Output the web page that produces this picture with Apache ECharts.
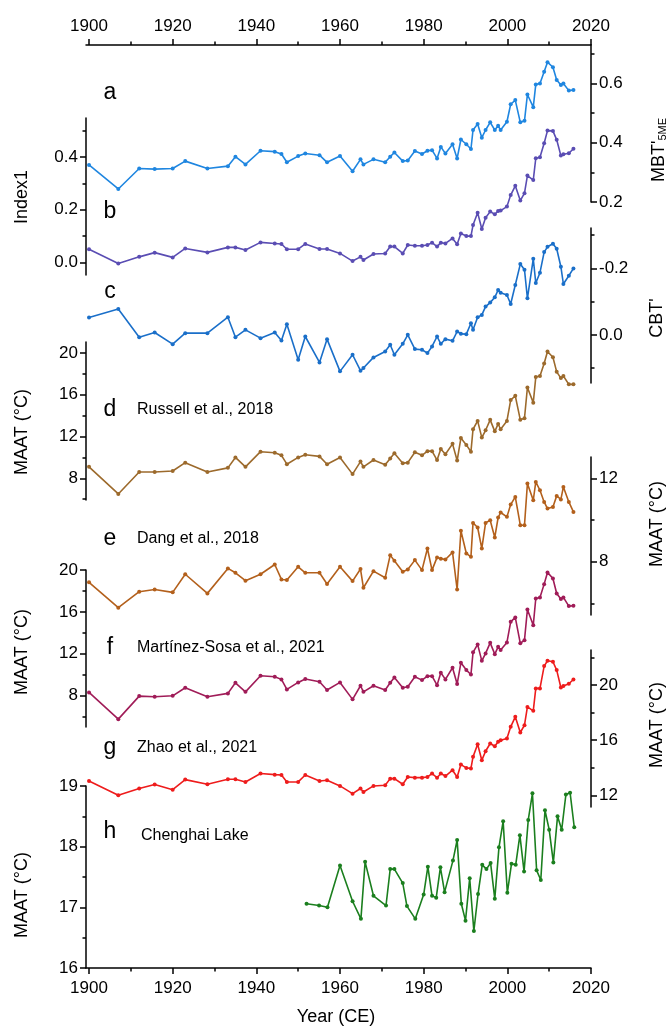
<!DOCTYPE html>
<html>
<head>
<meta charset="utf-8">
<script src="https://cdn.jsdelivr.net/npm/echarts@6/dist/echarts.min.js"></script>
<style>
  html, body { margin: 0; padding: 0; background: #fff; }
  #chart { width: 672px; height: 1029px; }
</style>
</head>
<body>
<div id="chart"></div>
<script>
  // sample years shared by records a-g
  const years = [1900, 1907, 1912, 1915.7, 1920, 1923, 1928.3, 1933.2, 1935, 1937.4,
    1941, 1944.4, 1946, 1947.3, 1950, 1951.7, 1955.1, 1956.9, 1960, 1963,
    1964.9, 1965.6, 1968, 1970.8, 1972, 1973, 1975, 1976.2, 1977.9, 1979.6,
    1980.9, 1982, 1983.2, 1984.1, 1985.2, 1986.9, 1988, 1988.9, 1990.2, 1991.3,
    1991.8, 1992.9, 1993.9, 1994.8, 1995.9, 1997, 1997.8, 1998.4, 1999.9, 2000.8,
    2001.9, 2003.1, 2004.1, 2004.8, 2006.2, 2006.8, 2007.8, 2008.8, 2009.6, 2010.9,
    2011.8, 2012.8, 2013.4, 2014.7, 2015.8]

  const mbt5me = [0.325, 0.244, 0.313, 0.311, 0.313, 0.338, 0.313, 0.321, 0.353, 0.327,
    0.373, 0.37, 0.362, 0.334, 0.355, 0.364, 0.358, 0.334, 0.355, 0.304,
    0.344, 0.327, 0.344, 0.334, 0.353, 0.367, 0.338, 0.34, 0.372, 0.362,
    0.373, 0.375, 0.347, 0.386, 0.364, 0.395, 0.347, 0.411, 0.395, 0.379,
    0.443, 0.463, 0.417, 0.443, 0.469, 0.443, 0.457, 0.443, 0.471, 0.53,
    0.544, 0.469, 0.474, 0.563, 0.52, 0.597, 0.6, 0.64, 0.672, 0.655,
    0.612, 0.595, 0.6, 0.576, 0.578]

  const index1 = [0.05, -0.004, 0.021, 0.037, 0.019, 0.053, 0.038, 0.057, 0.057, 0.047,
    0.076, 0.072, 0.07, 0.05, 0.05, 0.07, 0.051, 0.051, 0.034, 0.005,
    0.021, 0.009, 0.032, 0.034, 0.06, 0.06, 0.034, 0.066, 0.063, 0.063,
    0.066, 0.075, 0.06, 0.075, 0.072, 0.091, 0.069, 0.11, 0.1, 0.1,
    0.142, 0.189, 0.127, 0.17, 0.193, 0.183, 0.195, 0.197, 0.212, 0.256,
    0.291, 0.235, 0.263, 0.33, 0.313, 0.396, 0.4, 0.453, 0.501, 0.5,
    0.466, 0.406, 0.411, 0.415, 0.432]

  const cbt = [-0.052, -0.078, 0.007, -0.007, 0.028, -0.005, -0.005, -0.053, 0.007, -0.015,
    0.01, -0.007, 0.017, -0.032, 0.075, 0.005, 0.083, 0.013, 0.11, 0.06,
    0.108, 0.1, 0.068, 0.05, 0.03, 0.06, 0.027, 0.0, 0.043, 0.045,
    0.055, 0.035, 0.005, 0.027, 0.013, 0.018, -0.01, -0.003, -0.002, -0.035,
    -0.015, -0.053, -0.06, -0.085, -0.097, -0.113, -0.135, -0.127, -0.12, -0.093,
    -0.15, -0.213, -0.196, -0.11, -0.229, -0.156, -0.187, -0.249, -0.265, -0.274,
    -0.259, -0.205, -0.153, -0.178, -0.2]

  const maatRussell = [9.1, 6.5, 8.6, 8.6, 8.7, 9.5, 8.6, 9.0, 10.0, 9.1,
    10.55, 10.45, 10.2, 9.35, 10.0, 10.25, 10.1, 9.35, 10.0, 8.4,
    9.6, 9.1, 9.75, 9.3, 9.9, 10.4, 9.45, 9.5, 10.5, 10.2,
    10.6, 10.6, 9.75, 10.8, 10.3, 11.3, 9.7, 11.85, 11.2, 10.55,
    12.7, 13.5, 11.9, 12.6, 13.6, 12.5, 13.2, 12.7, 13.5, 15.5,
    15.9, 13.6, 13.75, 16.7, 15.25, 17.7, 17.8, 19.0, 20.15, 19.6,
    18.2, 17.6, 17.8, 17.0, 17.0]

  const maatDang = [7.01, 5.79, 6.56, 6.67, 6.53, 7.4, 6.48, 7.68, 7.47, 7.09,
    7.4, 7.87, 7.15, 7.12, 7.76, 7.47, 7.47, 6.93, 7.76, 7.07,
    7.65, 6.75, 7.55, 7.23, 8.32, 8.05, 7.52, 7.63, 8.08, 7.6,
    8.64, 7.6, 8.21, 8.15, 8.11, 8.45, 6.67, 9.49, 8.4, 8.24,
    9.87, 9.65, 8.64, 9.87, 10.0, 9.17, 10.13, 10.37, 10.16, 10.75,
    11.12, 9.76, 9.76, 11.76, 10.96, 11.84, 11.44, 10.88, 10.56, 10.64,
    11.17, 11.0, 11.6, 10.88, 10.4]

  const maatMartinez = [8.3, 5.75, 7.95, 7.89, 7.98, 8.75, 7.89, 8.21, 9.22, 8.36,
    9.9, 9.8, 9.55, 8.59, 9.26, 9.58, 9.32, 8.53, 9.26, 7.64,
    8.94, 8.36, 8.94, 8.53, 9.22, 9.74, 8.75, 8.84, 9.8, 9.48,
    9.86, 9.86, 9.0, 10.18, 9.55, 10.66, 9.1, 11.13, 10.44, 10.02,
    12.13, 12.89, 11.32, 12.03, 13.04, 11.96, 12.66, 12.35, 13.08, 15.05,
    15.47, 12.99, 13.3, 16.23, 14.73, 17.28, 17.38, 18.65, 19.77, 19.19,
    17.76, 17.22, 17.38, 16.55, 16.58]

  const maatZhao = [13.04, 12.0, 12.49, 12.78, 12.41, 13.14, 12.8, 13.16, 13.16, 12.97,
    13.58, 13.5, 13.47, 12.97, 12.97, 13.47, 13.04, 13.09, 12.68, 12.12,
    12.49, 12.24, 12.68, 12.73, 13.21, 13.21, 12.8, 13.33, 13.28, 13.28,
    13.33, 13.58, 13.28, 13.58, 13.4, 13.82, 13.33, 14.23, 13.99, 13.95,
    14.79, 15.71, 14.55, 15.2, 15.76, 15.56, 15.88, 16.0, 16.12, 16.97,
    17.7, 16.56, 17.09, 18.42, 18.13, 19.76, 19.76, 21.38, 21.77, 21.7,
    21.09, 19.83, 19.93, 20.1, 20.41]

  // Chenghai Lake instrumental record
  const yearsChenghai = [1952, 1955, 1957, 1960, 1963, 1965, 1966, 1968, 1971, 1972,
    1973, 1975, 1976, 1978, 1980, 1981, 1982, 1983, 1984, 1985,
    1987, 1988, 1989, 1990, 1991, 1992, 1993, 1994, 1995, 1996,
    1997, 1998, 1999, 2000, 2001, 2002, 2003, 2004, 2005, 2006,
    2007, 2008, 2009, 2010, 2011, 2012, 2013, 2014, 2015, 2016]
  const maatChenghai = [17.06, 17.03, 17.0, 17.69, 17.1, 16.81, 17.75, 17.19, 17.03, 17.63,
    17.63, 17.4, 17.02, 16.81, 17.21, 17.67, 17.19, 17.16, 17.66, 17.25,
    17.77, 18.11, 17.06, 16.78, 17.48, 16.61, 17.22, 17.7, 17.63, 17.73,
    17.14, 17.99, 18.42, 17.24, 17.72, 17.7, 18.19, 17.59, 18.44, 18.88,
    17.61, 17.45, 18.6, 18.28, 17.74, 18.5, 18.28, 18.86, 18.89, 18.32]

  // tick values
  const yearTicks = [1900, 1920, 1940, 1960, 1980, 2000, 2020]
  const yearMinorTicks = [1910, 1930, 1950, 1970, 1990, 2010]
  const mbtTicks = [0.2, 0.4, 0.6]
  const mbtMinor = [0.3, 0.5, 0.7]
  const index1Ticks = [0.0, 0.2, 0.4]
  const index1Minor = [0.1, 0.3, 0.5]
  const cbtTicks = [-0.2, 0.0]
  const cbtMinor = [-0.3, -0.1, 0.1]
  const maatTicks = [8, 12, 16, 20]
  const maatMinor = [6, 10, 14, 18]
  const dangTicks = [8, 12]
  const dangMinor = [6, 10]
  const zhaoTicks = [12, 16, 20]
  const zhaoMinor = [14, 18, 22]
  const chenghaiTicks = [16, 17, 18, 19]
  const chenghaiMinor = [16.5, 17.5, 18.5]

  const FONT = '"Liberation Sans", Arial, sans-serif'
  const X_MIN = 1899.28
  const X_MAX = 2020

  // panel rows: [top, bottom] in px
  const rows = [[45, 202], [118, 275], [228, 383], [342, 500], [457, 615], [570, 727], [650, 807], [786, 968]]

  const grids = rows.map(r => ({ left: 86, right: 81, top: r[0], height: r[1] - r[0] }))

  const black = { color: '#000', width: 1.5 }

  function xAxisFor(gi, position) {
    if (!position) {
      return { type: 'value', gridIndex: gi, min: X_MIN, max: X_MAX, show: false }
    }
    return {
      type: 'value', gridIndex: gi, min: X_MIN, max: X_MAX, position: position,
      splitLine: { show: false },
      axisLine: { show: true, lineStyle: black },
      axisTick: { show: true, length: 6, customValues: yearTicks, lineStyle: black },
      axisLabel: {
        customValues: yearTicks, margin: position === 'top' ? 10 : 12,
        color: '#000', fontSize: 17, fontFamily: FONT,
        formatter: v => String(Math.round(v))
      }
    }
  }

  function xMinorFor(gi, position) {
    return {
      type: 'value', gridIndex: gi, min: X_MIN, max: X_MAX, position: position,
      splitLine: { show: false },
      axisLine: { show: false },
      axisTick: { show: true, length: 3.5, customValues: yearMinorTicks, lineStyle: black },
      axisLabel: { show: false }
    }
  }

  function yAxesFor(gi, position, min, max, major, minor, digits, inverse) {
    const base = { type: 'value', gridIndex: gi, position: position, min: min, max: max, inverse: !!inverse, splitLine: { show: false } }
    return [
      Object.assign({}, base, {
        axisLine: { show: true, lineStyle: black },
        axisTick: { show: true, length: 6, customValues: major, lineStyle: black },
        axisLabel: {
          customValues: major, margin: 8, color: '#000', fontSize: 17, fontFamily: FONT,
          formatter: v => Number(v).toFixed(digits)
        }
      }),
      Object.assign({}, base, {
        axisLine: { show: false },
        axisTick: { show: true, length: 3.5, customValues: minor, lineStyle: black },
        axisLabel: { show: false }
      })
    ]
  }

  const xAxes = [
    xAxisFor(0, 'top'), xAxisFor(1), xAxisFor(2), xAxisFor(3),
    xAxisFor(4), xAxisFor(5), xAxisFor(6), xAxisFor(7, 'bottom'),
    xMinorFor(0, 'top'), xMinorFor(7, 'bottom')
  ]

  const yAxes = [].concat(
    yAxesFor(0, 'right', 0.2, 0.73, mbtTicks, mbtMinor, 1),
    yAxesFor(1, 'left', -0.048, 0.549, index1Ticks, index1Minor, 1),
    yAxesFor(2, 'right', -0.3216, 0.145, cbtTicks, cbtMinor, 1, true),
    yAxesFor(3, 'left', 5.92, 21.06, maatTicks, maatMinor, 0),
    yAxesFor(4, 'right', 5.44, 13.04, dangTicks, dangMinor, 0),
    yAxesFor(5, 'left', 5, 20, maatTicks, maatMinor, 0),
    yAxesFor(6, 'right', 11.15, 22.55, zhaoTicks, zhaoMinor, 0),
    yAxesFor(7, 'left', 16, 19, chenghaiTicks, chenghaiMinor, 0)
  )

  function line(gi, xs, ys, color) {
    return {
      type: 'line', xAxisIndex: gi, yAxisIndex: gi * 2,
      data: xs.map((x, i) => [x, ys[i]]),
      symbol: 'circle', symbolSize: 4, showSymbol: true,
      lineStyle: { color: color, width: 1.6 },
      itemStyle: { color: color },
      animation: false, silent: true
    }
  }

  const series = [
    line(0, years, mbt5me, '#1f86e0'),
    line(1, years, index1, '#5a4db3'),
    line(2, years, cbt, '#1a6fc9'),
    line(3, years, maatRussell, '#9c6a2c'),
    line(4, years, maatDang, '#b3601c'),
    line(5, years, maatMartinez, '#a01c58'),
    line(6, years, maatZhao, '#ee1c1c'),
    line(7, yearsChenghai, maatChenghai, '#1b7f1e')
  ]

  function label(x, y, text, size, align) {
    return {
      type: 'text', x: x, y: y, silent: true,
      style: { text: text, fill: '#000', font: size + 'px ' + FONT, textAlign: align || 'left', textVerticalAlign: 'middle' }
    }
  }
  function vTitle(x, y, text) {
    return {
      type: 'text', x: x, y: y, rotation: Math.PI / 2, silent: true,
      style: { text: text, fill: '#000', font: '18px ' + FONT, textAlign: 'center', textVerticalAlign: 'middle' }
    }
  }

  const graphics = [
    label(110, 93, 'a', 23, 'center'),
    label(110, 212, 'b', 23, 'center'),
    label(110, 292, 'c', 23, 'center'),
    label(110, 410, 'd', 23, 'center'),
    label(137, 410, 'Russell et al., 2018', 16),
    label(110, 539, 'e', 23, 'center'),
    label(137, 539, 'Dang et al., 2018', 16),
    label(110, 648, 'f', 23, 'center'),
    label(137, 648, 'Martínez-Sosa et al., 2021', 16),
    label(110, 748, 'g', 23, 'center'),
    label(137, 748, 'Zhao et al., 2021', 16),
    label(110, 832, 'h', 23, 'center'),
    label(141, 836, 'Chenghai Lake', 16),
    label(336, 1017, 'Year (CE)', 18, 'center'),
    {
      type: 'text', x: 659, y: 150, rotation: Math.PI / 2, silent: true,
      style: {
        text: "{m|MBT'}{s|5ME}", fill: '#000', textAlign: 'center', textVerticalAlign: 'middle',
        rich: {
          m: { fontSize: 18, fontFamily: FONT, fill: '#000', verticalAlign: 'bottom' },
          s: { fontSize: 11, fontFamily: FONT, fill: '#000', verticalAlign: 'bottom' }
        }
      }
    },
    vTitle(22, 197, 'Index1'),
    vTitle(657, 318, "CBT'"),
    vTitle(22, 432, 'MAAT (°C)'),
    vTitle(657, 524, 'MAAT (°C)'),
    vTitle(22, 652, 'MAAT (°C)'),
    vTitle(657, 725, 'MAAT (°C)'),
    vTitle(22, 895, 'MAAT (°C)')
  ]

  const chart = echarts.init(document.getElementById('chart'), null, { renderer: 'canvas' })
  chart.setOption({
    backgroundColor: '#fff',
    animation: false,
    textStyle: { fontFamily: FONT },
    grid: grids,
    xAxis: xAxes,
    yAxis: yAxes,
    series: series,
    graphic: graphics
  })
</script>
</body>
</html>
